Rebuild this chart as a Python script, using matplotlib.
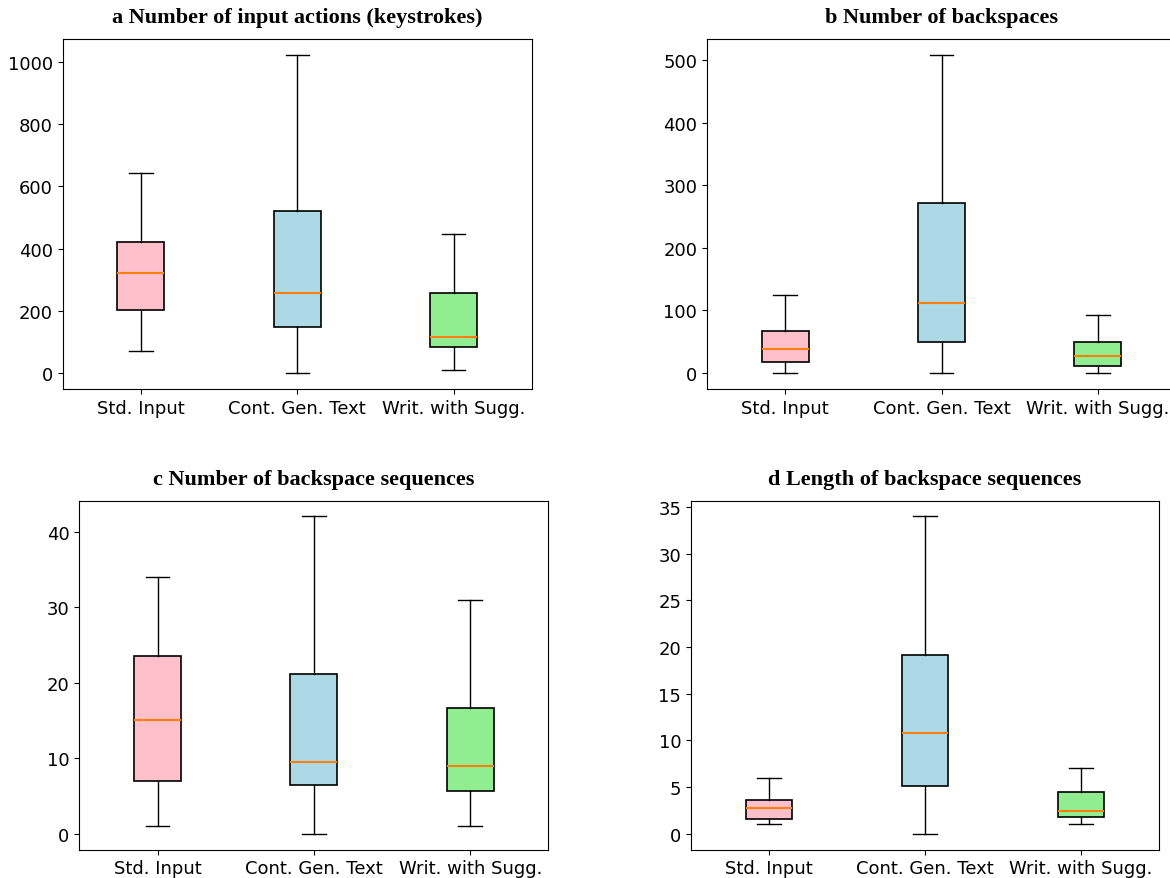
import matplotlib
matplotlib.use("Agg")
import matplotlib.pyplot as plt

categories = ["Std. Input", "Cont. Gen. Text", "Writ. with Sugg."]
box_colors = ["pink", "lightblue", "lightgreen"]

titles = [
    "a Number of input actions (keystrokes)",
    "b Number of backspaces",
    "c Number of backspace sequences",
    "d Length of backspace sequences",
]

# five-number summaries per panel: [whislo, q1, med, q3, whishi] per category
keystrokes = [[72, 203, 321, 421, 643],
              [0, 148, 258, 521, 1022],
              [10, 84, 116, 256, 448]]
backspaces = [[0, 18, 38, 67, 125],
              [0, 49, 112, 272, 508],
              [0, 11, 28, 49, 92]]
bs_sequences = [[1, 7, 15, 23.5, 34],
                [0, 6.5, 9.5, 21.2, 42],
                [1, 5.7, 9, 16.7, 31]]
bs_length = [[1, 1.6, 2.7, 3.6, 6],
             [0, 5.1, 10.8, 19.1, 34],
             [1, 1.75, 2.4, 4.5, 7]]

panels = [keystrokes, backspaces, bs_sequences, bs_length]
positions = [
    [0.0536, 0.5563, 0.4009, 0.3982],
    [0.6043, 0.5563, 0.4009, 0.3982],
    [0.0678, 0.0324, 0.4009, 0.3970],
    [0.5906, 0.0324, 0.4000, 0.3970],
]

fig = plt.figure(figsize=(11.70, 8.79), dpi=100)

for title, data, pos in zip(titles, panels, positions):
    ax = fig.add_axes(pos)
    stats = []
    for lab, (lo, q1, med, q3, hi) in zip(categories, data):
        stats.append(dict(label=lab, whislo=lo, q1=q1, med=med, q3=q3, whishi=hi, fliers=[]))
    bp = ax.bxp(stats, widths=0.3, patch_artist=True, showfliers=False,
                medianprops=dict(color="#ff7f0e", linewidth=1.5),
                boxprops=dict(edgecolor="black", linewidth=1.2),
                whiskerprops=dict(color="black", linewidth=1.0),
                capprops=dict(color="black", linewidth=1.0))
    for patch, c in zip(bp["boxes"], box_colors):
        patch.set_facecolor(c)
    ax.tick_params(axis="both", labelsize=13)
    ax.set_title(title, fontfamily="Liberation Serif", fontweight="bold",
                 fontsize=16, pad=12)

fig.savefig("out.png", dpi=100)
